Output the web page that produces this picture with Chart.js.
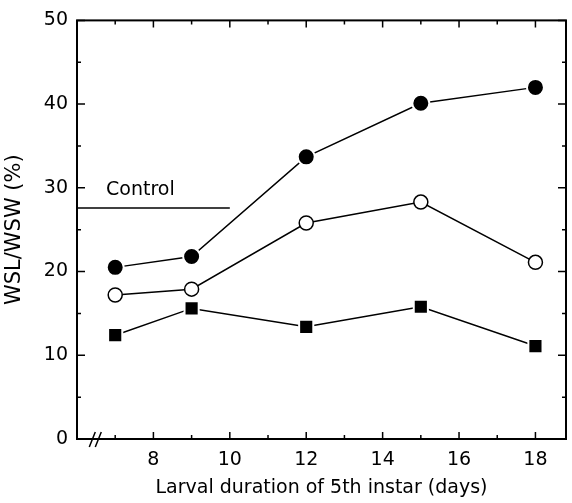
<!DOCTYPE html>
<html>
<head>
<meta charset="utf-8">
<script src="https://cdn.jsdelivr.net/npm/chart.js@4.4.0/dist/chart.umd.min.js"></script>
<style>
  html, body { margin: 0; padding: 0; background: #fff; }
</style>
</head>
<body>
<canvas id="myChart" width="572" height="503"></canvas>
<script>
// values
const days = [7, 9, 12, 15, 18];
const filledCircle = [20.5, 21.8, 33.7, 40.1, 42.0];
const openCircle = [17.2, 17.9, 25.8, 28.3, 21.1];
const filledSquare = [12.4, 15.6, 13.4, 15.8, 11.1];
const controlX = [6, 10];
const controlValue = 27.6;
const xTicks = [8, 10, 12, 14, 16, 18];
const yTicks = [0, 10, 20, 30, 40, 50];

const font = '"DejaVu Sans", Arial, sans-serif';

function pts(xs, ys) {
  return xs.map((v, i) => ({ x: v, y: ys[i] }));
}

// box, inward ticks, axis break and the "Control" label
const frame = {
  id: 'frame',
  afterDraw(chart) {
    const ctx = chart.ctx;
    const a = chart.chartArea;
    const x = chart.scales.x, y = chart.scales.y;
    ctx.save();
    ctx.strokeStyle = '#000';
    ctx.lineWidth = 2;
    ctx.strokeRect(a.left, a.top, a.right - a.left, a.bottom - a.top);

    ctx.lineWidth = 1.5;
    ctx.beginPath();
    for (let v = 7; v <= 18; v++) {
      const len = v % 2 === 0 ? 7 : 4;
      const px = x.getPixelForValue(v);
      ctx.moveTo(px, a.bottom); ctx.lineTo(px, a.bottom - len);
      ctx.moveTo(px, a.top); ctx.lineTo(px, a.top + len);
    }
    for (let v = 0; v <= 50; v += 5) {
      const len = v % 10 === 0 ? 8 : 4;
      const py = y.getPixelForValue(v);
      ctx.moveTo(a.left, py); ctx.lineTo(a.left + len, py);
      ctx.moveTo(a.right, py); ctx.lineTo(a.right - len, py);
    }
    ctx.stroke();

    // axis break "//"
    const bx = x.getPixelForValue(6.4);
    ctx.beginPath();
    ctx.moveTo(bx - 3, a.bottom + 8); ctx.lineTo(bx + 3, a.bottom - 7);
    ctx.moveTo(bx + 3, a.bottom + 8); ctx.lineTo(bx + 9, a.bottom - 7);
    ctx.stroke();

    ctx.fillStyle = '#000';
    ctx.font = '19px ' + font;
    ctx.textAlign = 'left';
    ctx.textBaseline = 'alphabetic';
    ctx.fillText('Control', x.getPixelForValue(6.76), y.getPixelForValue(29.1));
    ctx.restore();
  }
};

const ctx = document.getElementById('myChart').getContext('2d');
const chart = new Chart(ctx, {
  type: 'line',
  data: {
    datasets: [
      {
        label: 'filled circles',
        data: pts(days, filledCircle),
        borderColor: '#000',
        borderWidth: 1.5,
        pointStyle: 'circle',
        pointRadius: 8.5,
        pointBackgroundColor: '#000',
        pointBorderColor: '#fff',
        pointBorderWidth: 2
      },
      {
        label: 'open circles',
        data: pts(days, openCircle),
        borderColor: '#000',
        borderWidth: 1.5,
        pointStyle: 'circle',
        pointRadius: 7,
        pointBackgroundColor: '#fff',
        pointBorderColor: '#000',
        pointBorderWidth: 1.5
      },
      {
        label: 'filled squares',
        data: pts(days, filledSquare),
        borderColor: '#000',
        borderWidth: 1.5,
        pointStyle: 'rect',
        pointRadius: 10,
        pointBackgroundColor: '#000',
        pointBorderColor: '#fff',
        pointBorderWidth: 2
      },
      {
        label: 'Control',
        data: pts(controlX, controlX.map(() => controlValue)),
        borderColor: '#000',
        borderWidth: 1.5,
        pointRadius: 0
      }
    ]
  },
  options: {
    responsive: false,
    animation: false,
    events: [],
    layout: { autoPadding: false, padding: { top: 15, right: 6, left: 0, bottom: 0 } },
    plugins: { legend: { display: false }, tooltip: { enabled: false } },
    scales: {
      x: {
        type: 'linear',
        min: 6,
        max: 18.8,
        afterBuildTicks: s => { s.ticks = xTicks.map(v => ({ value: v })); },
        afterFit: s => { s.height = 64; },
        grid: { display: false, drawTicks: false },
        border: { display: false },
        ticks: { color: '#000', padding: 10, maxRotation: 0, font: { family: font, size: 19 } },
        title: {
          display: true,
          text: 'Larval duration of 5th instar (days)',
          color: '#000',
          padding: { top: 0, bottom: 4 },
          font: { family: font, size: 19 }
        }
      },
      y: {
        min: 0,
        max: 50,
        afterBuildTicks: s => { s.ticks = yTicks.map(v => ({ value: v })); },
        afterFit: s => { s.width = 77; },
        grid: { display: false, drawTicks: false },
        border: { display: false },
        ticks: { color: '#000', padding: 9, font: { family: font, size: 19 } },
        title: {
          display: true,
          text: 'WSL/WSW (%)',
          color: '#000',
          padding: { top: 2, bottom: 0 },
          font: { family: font, size: 21 }
        }
      }
    }
  },
  plugins: [frame]
});
</script>
</body>
</html>
